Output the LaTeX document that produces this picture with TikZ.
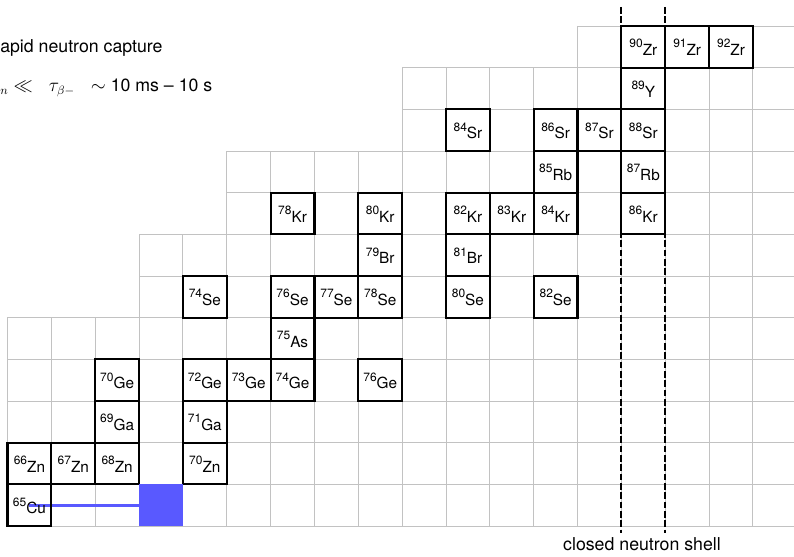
\documentclass[tikz,border=0pt]{standalone}
\usepackage{fontspec}
\setmainfont{TeX Gyre Heros}
\usetikzlibrary{backgrounds}
\newcommand{\isolab}[2]{\raisebox{5.6pt}{\fontsize{9}{9}\selectfont #1}{\fontsize{11.5}{11.5}\selectfont #2}}
\tikzset{
  gridline/.style={draw=black!24, line width=0.7pt},
  isobox/.style={draw=black, line width=1.6pt, minimum width=32.8875pt, minimum height=31.2525pt,
    inner sep=0pt, text height=12.75pt, text depth=0pt},
  capbox/.style={fill=blue!65, draw=none, minimum width=32.8875pt, minimum height=31.2525pt, inner sep=0pt},
  capline/.style={draw=blue!65, line width=2.2pt},
  shell/.style={draw=black, line width=1.6pt, dash pattern=on 5pt off 2pt},
  bigtext/.style={font=\fontsize{13.3}{16}\selectfont, inner sep=0pt}
}
\begin{document}
\begin{tikzpicture}[x=32.8875pt, y=-31.2525pt]
\useasboundingbox (-0.171,-0.624) rectangle (17.936,12.719);
\clip (-0.171,-0.624) rectangle (17.936,12.719);

% isotope boxes
\node[isobox] (zr90) at (14.5,0.5) {\isolab{90}{Zr}};
\node[isobox] (zr91) at (15.5,0.5) {\isolab{91}{Zr}};
\node[isobox] (zr92) at (16.5,0.5) {\isolab{92}{Zr}};
\node[isobox] (y89) at (14.5,1.5) {\isolab{89}{Y}};
\node[isobox] (sr84) at (10.5,2.5) {\isolab{84}{Sr}};
\node[isobox] (sr86) at (12.5,2.5) {\isolab{86}{Sr}};
\node[isobox] (sr87) at (13.5,2.5) {\isolab{87}{Sr}};
\node[isobox] (sr88) at (14.5,2.5) {\isolab{88}{Sr}};
\node[isobox] (rb85) at (12.5,3.5) {\isolab{85}{Rb}};
\node[isobox] (rb87) at (14.5,3.5) {\isolab{87}{Rb}};
\node[isobox] (kr78) at (6.5,4.5) {\isolab{78}{Kr}};
\node[isobox] (kr80) at (8.5,4.5) {\isolab{80}{Kr}};
\node[isobox] (kr82) at (10.5,4.5) {\isolab{82}{Kr}};
\node[isobox] (kr83) at (11.5,4.5) {\isolab{83}{Kr}};
\node[isobox] (kr84) at (12.5,4.5) {\isolab{84}{Kr}};
\node[isobox] (kr86) at (14.5,4.5) {\isolab{86}{Kr}};
\node[isobox] (br79) at (8.5,5.5) {\isolab{79}{Br}};
\node[isobox] (br81) at (10.5,5.5) {\isolab{81}{Br}};
\node[isobox] (se74) at (4.5,6.5) {\isolab{74}{Se}};
\node[isobox] (se76) at (6.5,6.5) {\isolab{76}{Se}};
\node[isobox] (se77) at (7.5,6.5) {\isolab{77}{Se}};
\node[isobox] (se78) at (8.5,6.5) {\isolab{78}{Se}};
\node[isobox] (se80) at (10.5,6.5) {\isolab{80}{Se}};
\node[isobox] (se82) at (12.5,6.5) {\isolab{82}{Se}};
\node[isobox] (as75) at (6.5,7.5) {\isolab{75}{As}};
\node[isobox] (ge70) at (2.5,8.5) {\isolab{70}{Ge}};
\node[isobox] (ge72) at (4.5,8.5) {\isolab{72}{Ge}};
\node[isobox] (ge73) at (5.5,8.5) {\isolab{73}{Ge}};
\node[isobox] (ge74) at (6.5,8.5) {\isolab{74}{Ge}};
\node[isobox] (ge76) at (8.5,8.5) {\isolab{76}{Ge}};
\node[isobox] (ga69) at (2.5,9.5) {\isolab{69}{Ga}};
\node[isobox] (ga71) at (4.5,9.5) {\isolab{71}{Ga}};
\node[isobox] (zn66) at (0.5,10.5) {\isolab{66}{Zn}};
\node[isobox] (zn67) at (1.5,10.5) {\isolab{67}{Zn}};
\node[isobox] (zn68) at (2.5,10.5) {\isolab{68}{Zn}};
\node[isobox] (zn70) at (4.5,10.5) {\isolab{70}{Zn}};
\node[isobox] (cu65) at (0.5,11.5) {\isolab{65}{Cu}};

% captured-neutron position
\node[capbox] (cap) at (3.5,11.5) {};

\begin{scope}[on background layer]
  \foreach \r/\s in {0/13,1/9,2/9,3/5,4/5,5/3,6/3,7/0,8/0,9/0,10/0,11/0} {
    \draw[gridline] (\s,\r) -- (18,\r) (\s,\r+1) -- (18,\r+1);
    \foreach \c in {\s,...,17} \draw[gridline] (\c,\r) -- (\c,\r+1);
  }
  \draw[capline] (cu65.center) -- (cap.west);
\end{scope}

% closed neutron shell
\coordinate (sa1) at (14,-0.456);
\coordinate (sa2) at (14,12.17);
\coordinate (sb1) at (15,-0.456);
\coordinate (sb2) at (15,12.17);
\draw[shell] (sa1) -- (sa2);
\draw[shell] (sb1) -- (sb2);
\node[bigtext, anchor=base] (shelllab) at (14.47,12.59) {closed neutron shell};

% title
\node[bigtext, anchor=base west] (title1) at (-0.171,0.648) {apid neutron capture};
\node[bigtext, anchor=base west] (title2) at (-0.171,1.577) {${}_n \ll\;\; \tau_{\beta-}\;\; \sim$ 10 ms -- 10 s};
\end{tikzpicture}
\end{document}
